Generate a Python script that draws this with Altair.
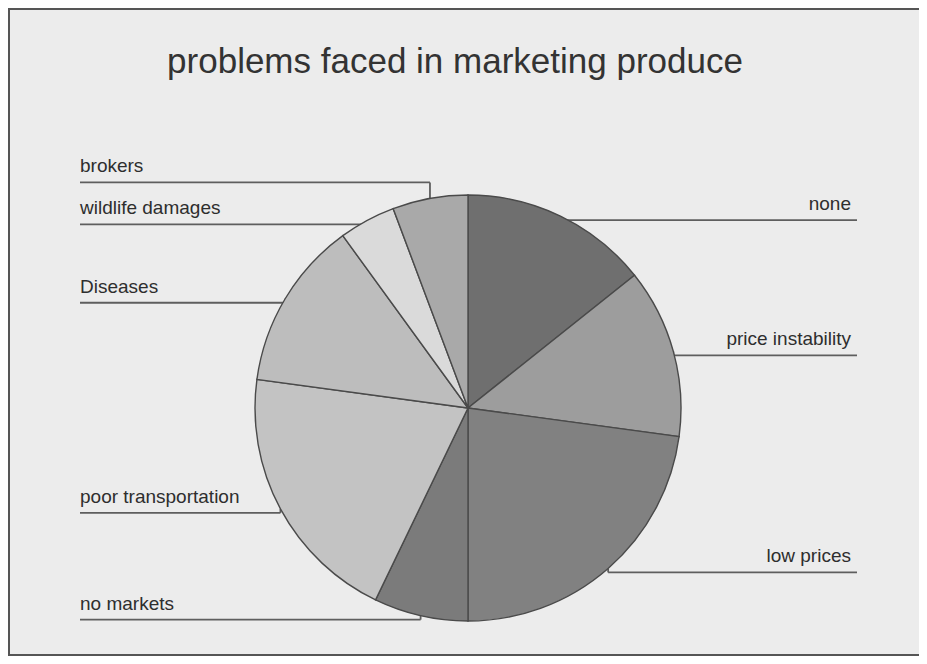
import math
import altair as alt
import pandas as pd

# ---- data ----
categories = ["none", "price instability", "low prices", "no markets",
              "poor transportation", "Diseases", "wildlife damages", "brokers"]
counts = [10, 9, 16, 5, 14, 9, 3, 4]
slice_colors = ["#6f6f6f", "#9d9d9d", "#818181", "#7b7b7b",
                "#c3c3c3", "#bdbdbd", "#dadada", "#a9a9a9"]
title_text = "problems faced in marketing produce"

# ---- layout (pixel coordinates inside the chart) ----
W, H = 911, 648
CX, CY, R = 460, 400, 213
LEFT_X, RIGHT_X = 72, 849
GAP = 42

total = sum(counts)
rows = []
cum = 0
for i, (c, v) in enumerate(zip(categories, counts)):
    mid = (cum + v / 2) / total * 2 * math.pi
    cum += v
    ax = CX + R * math.sin(mid)
    ay = CY - R * math.cos(mid)
    side = "right" if math.sin(mid) > 0 else "left"
    rows.append(dict(idx=i, label=c, value=v, ax=ax, ay=ay, side=side, ly=ay + 4))

# simple collision resolution per side (push labels upward)
for side in ("left", "right"):
    grp = sorted([r for r in rows if r["side"] == side], key=lambda r: -r["ly"])
    for a, b in zip(grp, grp[1:]):
        if a["ly"] - b["ly"] < GAP:
            b["ly"] = a["ly"] - GAP

for r in rows:
    if r["side"] == "left":
        r["x1"], r["x2"], r["tx"] = LEFT_X, r["ax"], LEFT_X
    else:
        r["x1"], r["x2"], r["tx"] = r["ax"], RIGHT_X, RIGHT_X - 6
    r["ty"] = r["ly"] - 10

df = pd.DataFrame(rows)

xs = alt.Scale(domain=[0, W], range=[0, W])
ys = alt.Scale(domain=[0, H], range=[0, H])

base = alt.Chart(df)

hlines = base.mark_rule(color="#5e5e5e", strokeWidth=1.8).encode(
    x=alt.X("x1:Q", scale=xs, axis=None),
    x2="x2:Q",
    y=alt.Y("ly:Q", scale=ys, axis=None),
)
vlines = base.mark_rule(color="#5e5e5e", strokeWidth=1.8).encode(
    x=alt.X("ax:Q", scale=xs, axis=None),
    y=alt.Y("ly:Q", scale=ys, axis=None),
    y2="ay:Q",
)

pie = base.mark_arc(stroke="#4a4a4a", strokeWidth=1.4, radius=R).encode(
    theta=alt.Theta("value:Q", stack=True),
    order=alt.Order("idx:Q"),
    color=alt.Color("label:N", scale=alt.Scale(domain=categories, range=slice_colors), legend=None),
    x=alt.value(CX),
    y=alt.value(CY),
)

left_text = base.transform_filter(alt.datum.side == "left").mark_text(
    align="left", baseline="alphabetic", font="Liberation Sans", fontSize=19, color="#2e2e2e"
).encode(
    x=alt.X("tx:Q", scale=xs, axis=None),
    y=alt.Y("ty:Q", scale=ys, axis=None),
    text="label:N",
)
right_text = base.transform_filter(alt.datum.side == "right").mark_text(
    align="right", baseline="alphabetic", font="Liberation Sans", fontSize=19, color="#2e2e2e"
).encode(
    x=alt.X("tx:Q", scale=xs, axis=None),
    y=alt.Y("ty:Q", scale=ys, axis=None),
    text="label:N",
)

title = alt.Chart(pd.DataFrame({"t": [title_text]})).mark_text(
    align="center", baseline="alphabetic", font="Liberation Sans", fontSize=35, color="#333333"
).encode(
    x=alt.value(447),
    y=alt.value(65),
    text="t:N",
)

frame = alt.Chart(pd.DataFrame({"a": [0]})).mark_rect(
    fill=None, stroke="#555555", strokeWidth=2
).encode(
    x=alt.value(1), x2=alt.value(W + 20), y=alt.value(1), y2=alt.value(H - 1)
)

chart = alt.layer(frame, hlines, vlines, pie, left_text, right_text, title).properties(
    width=W, height=H, padding=0, background="#ececec",
    autosize=alt.AutoSizeParams(type="none"),
).configure_view(stroke=None)

chart.save("out.html", embed_options={"renderer": "svg", "actions": False})
